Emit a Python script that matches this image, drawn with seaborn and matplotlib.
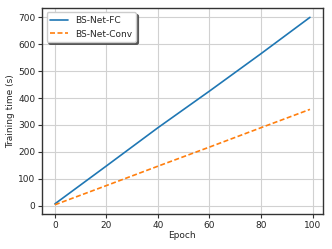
# ==========================================
# TRAINING TIME PER EPOCH
# ==========================================

import numpy as np
import pandas as pd
import matplotlib
matplotlib.use('Agg')
import matplotlib.pyplot as plt
import seaborn as sns

# ==========================================
# DATA
# ==========================================

epochs = [0, 20, 40, 60, 80, 99]
fc_time = [7, 148, 290, 426, 565, 700]
conv_time = [3.6, 75, 147, 218, 290, 358]

df = pd.DataFrame({
    'Epoch': epochs + epochs,
    'time': fc_time + conv_time,
    'model': ['BS-Net-FC'] * len(epochs) + ['BS-Net-Conv'] * len(epochs)
})

# ==========================================
# STYLE
# ==========================================

sns.set_style('whitegrid', {
    'axes.edgecolor': '0.2',
    'grid.color': '0.82',
    'xtick.bottom': True,
    'ytick.left': True,
})
plt.rcParams['font.family'] = ['DejaVu Sans']
plt.rcParams['font.size'] = 6.5

fig, ax = plt.subplots(figsize=(3.32, 2.49), dpi=100)

sns.lineplot(
    data=df,
    x='Epoch',
    y='time',
    hue='model',
    style='model',
    palette=['#1f77b4', '#ff7f0e'],
    dashes=[(None, None), (3, 1.5)],
    linewidth=1.2,
    ax=ax
)

ax.set_xticks([0, 20, 40, 60, 80, 100])
ax.set_yticks([0, 100, 200, 300, 400, 500, 600, 700])
ax.tick_params(labelsize=6.5, length=3, width=0.8, color='0.2', pad=2)
ax.set_xlabel('Epoch', fontsize=6.5, labelpad=1)
ax.set_ylabel('Training time (s)', fontsize=6.5, labelpad=2)
for sp in ax.spines.values():
    sp.set_linewidth(1.0)

leg = ax.legend(
    title=None,
    loc='upper left',
    fontsize=6.5,
    shadow={'ox': 1.5, 'oy': -1.5, 'color': '0.3', 'alpha': 0.9},
    fancybox=True,
    frameon=True,
    edgecolor='0.8',
    framealpha=1
)

fig.subplots_adjust(left=0.127, right=0.972, top=0.968, bottom=0.14)
fig.savefig('out.png', dpi=100)
